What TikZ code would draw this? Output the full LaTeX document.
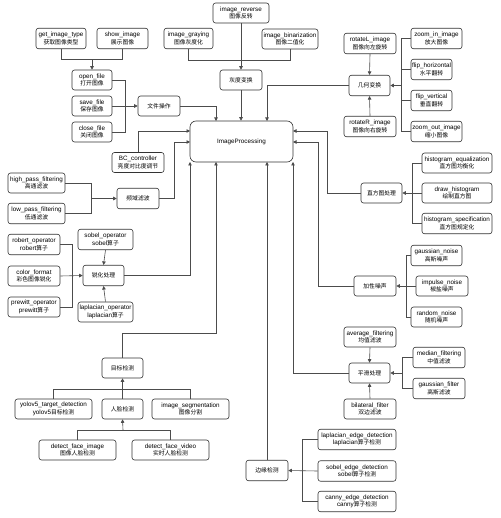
\documentclass[tikz,border=0pt]{standalone}
\usepackage{fontspec}
\setmainfont{Liberation Sans}
\newfontfamily\cjk[Scale=0.92]{Noto Sans CJK SC}
\usetikzlibrary{arrows.meta}
\begin{document}
\begin{tikzpicture}[x=1pt,y=-1pt,
  box/.style={draw=black!80,fill=white,rounded corners=2.5pt,line width=0.6pt,inner sep=0pt,align=center,
    font=\fontsize{6.3}{7.3}\selectfont,minimum height=20.5pt},
  ln/.style={draw=black!70,line width=0.6pt},
  arr/.style={ln,-{Triangle[length=3.5pt,width=3.5pt]}}]
\useasboundingbox[fill=white] (0,0) rectangle (500,518);
% ---- top row
\node[box,minimum width=56pt,minimum height=20pt] (rev) at (241,13) {image\_reverse\\\cjk 图像反转};
\node[box,minimum width=50pt] (git) at (61,38.5) {get\_image\_type\\\cjk 获取图像类型};
\node[box,minimum width=51pt] (shw) at (122.5,38.5) {show\_image\\\cjk 展示图像};
\node[box,minimum width=49pt] (gry) at (188.5,38.5) {image\_graying\\\cjk 图像灰度化};
\node[box,minimum width=56pt,minimum height=20pt] (bin) at (290,39) {image\_binarization\\\cjk 图像二值化};
\node[box,minimum width=52pt] (rotl) at (370,43.5) {rotateL\_image\\\cjk 图像向左旋转};
\node[box,minimum width=51pt] (zin) at (436.5,38.5) {zoom\_in\_image\\\cjk 放大图像};
% ---- file ops
\node[box,minimum width=40pt,minimum height=20pt] (opn) at (92,80) {open\_file\\\cjk 打开图像};
\node[box,minimum width=40pt,minimum height=20pt] (sav) at (92,106) {save\_file\\\cjk 保存图像};
\node[box,minimum width=40pt,minimum height=20pt] (cls) at (92,132) {close\_file\\\cjk 关闭图像};
\node[box,minimum width=42pt,minimum height=20pt] (file) at (159,106) {\cjk 文件操作};
\node[box,minimum width=42pt,minimum height=20pt] (gray) at (241,80) {\cjk 灰度变换};
% ---- geometry
\node[box,minimum width=41pt] (geo) at (369.5,85.5) {\cjk 几何变换};
\node[box,minimum width=41pt] (fh) at (431.5,69.5) {flip\_horizontal\\\cjk 水平翻转};
\node[box,minimum width=41pt] (fv) at (431.5,100.5) {flip\_vertical\\\cjk 垂直翻转};
\node[box,minimum width=52pt] (rotr) at (370,126.5) {rotateR\_image\\\cjk 图像向右旋转};
\node[box,minimum width=51pt] (zout) at (436.5,131.5) {zoom\_out\_image\\\cjk 缩小图像};
% ---- center
\node[box,minimum width=103pt,minimum height=41pt,rounded corners=6pt] (ip) at (241.5,141.5) {ImageProcessing};
\node[box,minimum width=52pt,minimum height=20pt] (bc) at (138,162.5) {BC\_controller\\\cjk 亮度对比度调节};
% ---- histogram
\node[box,minimum width=70pt,minimum height=20pt] (heq) at (457,163) {histogram\_equalization\\\cjk 直方图均衡化};
\node[box,minimum width=70pt,minimum height=20pt] (dh) at (457,193) {draw\_histogram\\\cjk 绘制直方图};
\node[box,minimum width=70pt] (hs) at (457,223.5) {histogram\_specification\\\cjk 直方图规定化};
\node[box,minimum width=41pt,minimum height=20pt] (hist) at (381.5,193) {\cjk 直方图处理};
% ---- frequency
\node[box,minimum width=57pt,minimum height=20pt] (hp) at (36.5,183) {high\_pass\_filtering\\\cjk 高通滤波};
\node[box,minimum width=57pt] (lp) at (36.5,213.5) {low\_pass\_filtering\\\cjk 低通滤波};
\node[box,minimum width=42pt] (freq) at (138,198.5) {\cjk 频域滤波};
% ---- sharpen
\node[box,minimum width=55pt] (sobo) at (105.5,239.5) {sobel\_operator\\sobel{\cjk 算子}};
\node[box,minimum width=52pt] (rob) at (34,244.5) {robert\_operator\\robert{\cjk 算子}};
\node[box,minimum width=52pt,minimum height=20pt] (col) at (34,276) {color\_format\\\cjk 彩色图像锐化};
\node[box,minimum width=52pt,minimum height=20pt] (pre) at (34,307) {prewitt\_operator\\prewitt{\cjk 算子}};
\node[box,minimum width=55pt,minimum height=20pt] (lapo) at (105.5,312) {laplacian\_operator\\laplacian{\cjk 算子}};
\node[box,minimum width=41pt] (sharp) at (103.5,275.5) {\cjk 锐化处理};
% ---- noise
\node[box,minimum width=51pt] (gn) at (436.5,255.5) {gaussian\_noise\\\cjk 高斯噪声};
\node[box,minimum width=52pt,minimum height=20pt] (imp) at (442,286) {impulse\_noise\\\cjk 椒盐噪声};
\node[box,minimum width=51pt,minimum height=20pt] (rn) at (436.5,317) {random\_noise\\\cjk 随机噪声};
\node[box,minimum width=42pt,minimum height=20pt] (noise) at (375,286) {\cjk 加性噪声};
% ---- smoothing
\node[box,minimum width=52pt,minimum height=20pt] (avg) at (370,337) {average\_filtering\\\cjk 均值滤波};
\node[box,minimum width=52pt] (med) at (439,357.5) {median\_filtering\\\cjk 中值滤波};
\node[box,minimum width=52pt] (gf) at (439,388.5) {gaussian\_filter\\\cjk 高斯滤波};
\node[box,minimum width=52pt,minimum height=20pt] (bil) at (370,409) {bilateral\_filter\\\cjk 双边滤波};
\node[box,minimum width=41pt,minimum height=20pt] (smooth) at (369.5,373) {\cjk 平滑处理};
% ---- detection
\node[box,minimum width=41pt,minimum height=20pt] (tgt) at (122.5,368) {\cjk 目标检测};
\node[box,minimum width=77pt,minimum height=20pt] (yolo) at (53.5,409) {yolov5\_target\_detection\\yolov5{\cjk 目标检测}};
\node[box,minimum width=41pt,minimum height=20pt] (face) at (122.5,409) {\cjk 人脸检测};
\node[box,minimum width=77pt,minimum height=20pt] (seg) at (190.5,409) {image\_segmentation\\\cjk 图像分割};
\node[box,minimum width=77pt,minimum height=20pt] (dfi) at (77.5,450) {detect\_face\_image\\\cjk 图像人脸检测};
\node[box,minimum width=77pt,minimum height=20pt] (dfv) at (170.5,450) {detect\_face\_video\\\cjk 实时人脸检测};
% ---- edge
\node[box,minimum width=42pt] (edge) at (267,470.5) {\cjk 边缘检测};
\node[box,minimum width=78pt] (lape) at (357,439.5) {laplacian\_edge\_detection\\laplacian{\cjk 算子检测}};
\node[box,minimum width=78pt] (sobe) at (357,471) {sobel\_edge\_detection\\sobel{\cjk 算子检测}};
\node[box,minimum width=78pt] (canny) at (357,501.5) {canny\_edge\_detection\\canny{\cjk 算子检测}};
% ---- junction coordinates
\coordinate (jt) at (92,59.5);
\coordinate (jf) at (125,106);
\coordinate (jg) at (241,60);
\coordinate (jgeo) at (401,85.5);
\coordinate (jfr) at (91,198.5);
\coordinate (jsh) at (72,275.5);
\coordinate (jh) at (412,193);
\coordinate (jn) at (406,286);
\coordinate (jsm) at (402,373);
\coordinate (jd1) at (123,389);
\coordinate (jd2) at (123,430);
\coordinate (je) at (302,471);
\coordinate (ct) at (216,333);
\coordinate (ipt1) at (216,121);
\coordinate (ipt3) at (267,121);
\coordinate (ipl1) at (190,131);
\coordinate (ipl2) at (190,142);
\coordinate (ipr1) at (293,131);
\coordinate (ipr2) at (293,142);
\coordinate (ipb1) at (190,162);
\coordinate (ipb2) at (216,162);
\coordinate (ipb3) at (267,162);
\coordinate (ipb4) at (293,162);
% ---- connectors: file ops
\draw[ln] (git.south) |- (jt);
\draw[ln] (shw.south) |- (jt);
\draw[arr] (jt) -- (opn.north);
\draw[ln] (opn.east) -| (jf);
\draw[ln] (cls.east) -| (jf);
\draw[arr] (sav.east) -- (file.west);
\draw[arr] (file.east) -| (ipt1);
% gray
\draw[ln] (gry.south) |- (jg);
\draw[ln] (bin.south) |- (jg);
\draw[arr] (rev.south) -- (gray.north);
\draw[arr] (gray.south) -- (gray.south |- ip.north);
% geometry
\draw[arr] (rotl.south) -- (geo.north);
\draw[arr] (rotr.north) -- (geo.south);
\draw[ln] (zin.west) -| (jgeo);
\draw[ln] (zout.west) -| (jgeo);
\draw[ln] (fh.west) -- (fh.west -| jgeo);
\draw[ln] (fv.west) -- (fv.west -| jgeo);
\draw[arr] (jgeo) -- (geo.east);
\draw[arr] (geo.west) -| (ipt3);
% BC and frequency
\draw[arr] (bc.north) |- (ipl1);
\draw[ln] (hp.east) -| (jfr);
\draw[ln] (lp.east) -| (jfr);
\draw[arr] (jfr) -- (freq.west);
\draw[arr] (freq.east) -- ++(15,0) |- (ipl2);
% sharpen
\draw[ln] (rob.east) -| (jsh);
\draw[ln] (pre.east) -| (jsh);
\draw[arr] (col.east) -- (sharp.west);
\draw[arr] (sobo.south) -- (sharp.north);
\draw[arr] (lapo.north) -- (sharp.south);
\draw[arr] (sharp.east) -| (ipb1);
% histogram
\draw[ln] (heq.west) -| (jh);
\draw[ln] (hs.west) -| (jh);
\draw[arr] (dh.west) -- (hist.east);
\draw[arr] (hist.west) -- ++(-33,0) |- (ipr1);
% noise
\draw[ln] (gn.west) -| (jn);
\draw[ln] (rn.west) -| (jn);
\draw[arr] (imp.west) -- (noise.east);
\draw[arr] (noise.west) -- ++(-35,0) |- (ipr2);
% smoothing
\draw[arr] (avg.south) -- (smooth.north);
\draw[arr] (bil.north) -- (smooth.south);
\draw[ln] (med.west) -| (jsm);
\draw[ln] (gf.west) -| (jsm);
\draw[arr] (jsm) -- (smooth.east);
\draw[arr] (smooth.west) -| (ipb4);
% detection
\draw[ln] (yolo.north) |- (jd1);
\draw[ln] (seg.north) |- (jd1);
\draw[arr] (face.north) -- (tgt.south);
\draw[ln] (dfi.north) |- (jd2);
\draw[ln] (dfv.north) |- (jd2);
\draw[arr] (jd2) -- (face.south);
\draw[arr] (tgt.north) |- (ct) -- (ipb2);
% edge
\draw[ln] (lape.west) -| (je);
\draw[ln] (canny.west) -| (je);
\draw[arr] (sobe.west) -- (edge.east);
\draw[arr] (edge.north) -- (ipb3);
\end{tikzpicture}
\end{document}
